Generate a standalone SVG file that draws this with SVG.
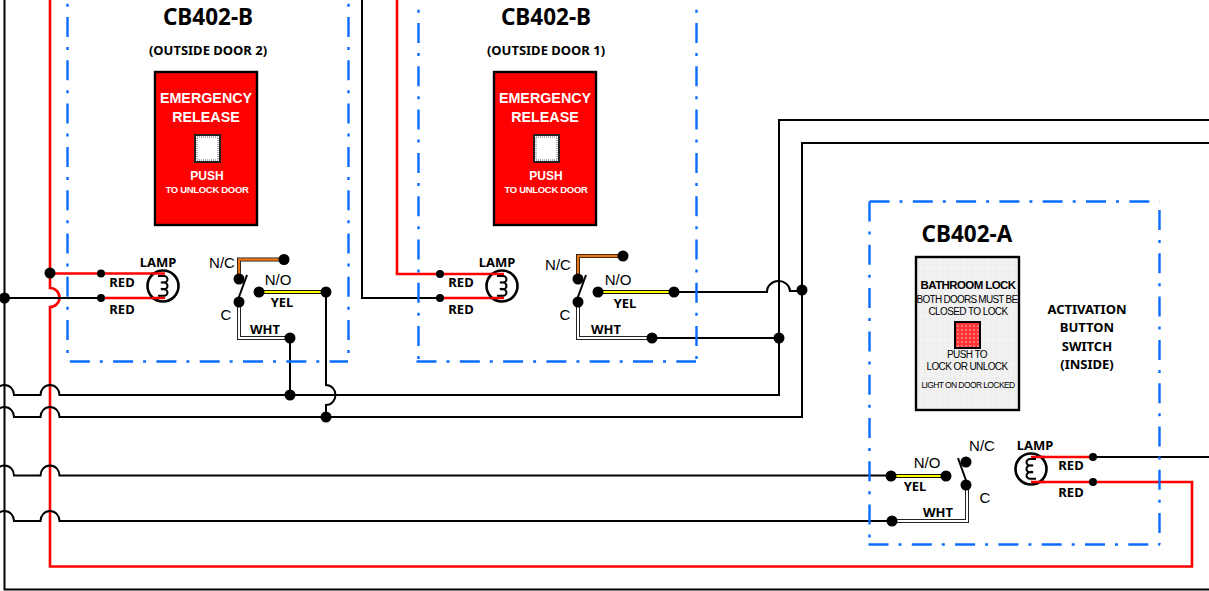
<svg xmlns="http://www.w3.org/2000/svg" width="1209" height="591" viewBox="0 0 1209 591">
<style>
text{text-anchor:middle;fill:#000}
.c{font-family:"Noto Sans","Open Sans",sans-serif;font-weight:700}
.a{font-family:"Liberation Sans",Arial,sans-serif}
.ttl{font-size:22.500px}
.sub{font-size:13px}
.lbl{font-size:13px}
.t{font-size:15px}
.w{fill:none;stroke:#000;stroke-width:2}
.r{fill:none;stroke:#f00;stroke-width:2.6}
.box{fill:none;stroke:#0a6cff;stroke-width:2.4;stroke-dasharray:20 10 3 10.300}
.yo{fill:none;stroke:#111;stroke-width:4}
.yi{fill:none;stroke:#ff0;stroke-width:2}
.oo{fill:none;stroke:#111;stroke-width:4}
.oi{fill:none;stroke:#e8771a;stroke-width:2.4}
.wo{fill:none;stroke:#222;stroke-width:4}
.wi{fill:none;stroke:#fff;stroke-width:2}
.lamp{fill:#fff;stroke:#000;stroke-width:2.6}
.coil{fill:none;stroke:#000;stroke-width:2}
.panel{stroke:#000;stroke-width:2.4}
.btn{fill:#fff;stroke:#222;stroke-width:2}
.btd{fill:none;stroke:#999;stroke-width:1.500;stroke-dasharray:1 1}
.e{fill:#fff;font-family:"Liberation Sans",Arial,sans-serif;font-weight:700}
.g{font-family:"Liberation Sans",Arial,sans-serif;letter-spacing:-.6px}
</style>
<defs>
<pattern id="grid" width="6" height="6" patternUnits="userSpaceOnUse"><rect width="6" height="6" fill="#f2f2f2"/><path d="M0 0H6M0 0V6" stroke="#e9e9e9" stroke-width="1"/></pattern>
<pattern id="redgrid" width="4" height="4" patternUnits="userSpaceOnUse"><rect width="4" height="4" fill="#f33"/><circle cx="2" cy="2" r="1" fill="#f88"/></pattern>
<g id="dotS"><circle r="4" fill="#000"/></g>
<g id="dotL"><circle r="5.500" fill="#000"/></g>
</defs>

<g id="connectors">
<path class="w" d="M4.500 0V589.500H1209"/>
<path class="r" d="M50 0V288A9.500 9.500 0 0 1 50 307V566.500H1192V482H1093"/>
<path class="r" d="M50 273.500H163"/>
<path class="r" d="M101 298H163"/>
<path class="w" d="M0 298H101"/>
<path class="w" d="M362 0V298H440"/>
<path class="r" d="M397 0V274H502"/>
<path class="r" d="M440 298H502"/>
<path class="w" d="M-5 395A9.500 10 0 0 1 14 395H40.500A9.500 10 0 0 1 59.500 395H779V120H1209"/>
<path class="w" d="M-5 417A9.500 10 0 0 1 14 417H40.500A9.500 10 0 0 1 59.500 417H802V143H1209"/>
<path class="w" d="M-5 475.500A9.500 10 0 0 1 14 475.500H40.500A9.500 10 0 0 1 59.500 475.500H891"/>
<path class="w" d="M-5 521A9.500 10 0 0 1 14 521H40.500A9.500 10 0 0 1 59.500 521H892"/>
<path class="w" d="M290 338V395"/>
<path class="w" d="M326 292V385A9.500 10 0 0 1 326 405V417"/>
<path class="w" d="M674 292H767A11 10 0 0 1 790 291H802"/>
<path class="w" d="M652 338H779"/>
<path class="w" d="M1093 457H1209"/>
<path class="r" d="M1030 457H1093"/>
<path class="r" d="M1030 482H1093"/>
<path class="oo" d="M239 279V259.500H285"/><path class="oi" d="M239 279V259.500H285"/>
<path class="yo" d="M259 292H326"/><path class="yi" d="M259 292H326"/>
<path class="wo" d="M239 302V338H290"/><path class="wi" d="M239 302V338H290"/>
<path class="oo" d="M578 279V256H623"/><path class="oi" d="M578 279V256H623"/>
<path class="yo" d="M598 292H674"/><path class="yi" d="M598 292H674"/>
<path class="wo" d="M578 302V338H652"/><path class="wi" d="M578 302V338H652"/>
<path class="yo" d="M891 476H946"/><path class="yi" d="M891 476H946"/>
<path class="wo" d="M967 485V521H892"/><path class="wi" d="M967 485V521H892"/>
<path class="w" d="M247 275L236 305"/>
<path class="w" d="M586 275L575 305"/>
<path class="w" d="M958 458L968 486"/>
</g>

<g id="junctions">
<use href="#dotL" x="50" y="273"/><use href="#dotL" x="4.500" y="298"/>
<use href="#dotS" x="101" y="273.500"/><use href="#dotS" x="101" y="298"/>
<use href="#dotS" x="440" y="274"/><use href="#dotS" x="440" y="298"/>
<use href="#dotL" x="290" y="338"/><use href="#dotL" x="326" y="292"/>
<use href="#dotL" x="290" y="395"/><use href="#dotL" x="326" y="417"/>
<use href="#dotL" x="674" y="292"/><use href="#dotL" x="652" y="338"/>
<use href="#dotL" x="779" y="338"/><use href="#dotL" x="802" y="290"/>
<use href="#dotL" x="891" y="476"/><use href="#dotL" x="892" y="521"/>
<use href="#dotS" x="1093" y="457"/><use href="#dotS" x="1093" y="482"/>
</g>

<g id="cb402-b-door2">
<path class="box" d="M67.500 -69.600V361"/><path class="box" d="M348.500 -69.600V361"/><path class="box" d="M69.800 361.500H348"/>
<text class="c ttl" x="208" y="25">CB402-B</text>
<text class="c sub" x="208" y="55">(OUTSIDE DOOR 2)</text>
<rect class="panel" x="155" y="72" width="102" height="153" fill="#f00"/>
<text class="e" x="206" y="103" font-size="14.300">EMERGENCY</text>
<text class="e" x="206" y="122" font-size="14.300">RELEASE</text>
<rect class="btn" x="195" y="135" width="25" height="27"/><rect class="btd" x="197" y="137" width="21" height="23"/>
<text class="e" x="207" y="180" font-size="12">PUSH</text>
<text class="e" x="207" y="193" font-size="9.500" letter-spacing="-.3">TO UNLOCK DOOR</text>
<circle class="lamp" cx="163" cy="286" r="15.500"/>
<path class="r" d="M152 273.500H165M152 298H165"/>
<path class="coil" d="M158 276h6a3.500 3.300 0 0 1 0 6.600h-3a3.500 3.300 0 0 1 3 0a3.500 3.300 0 0 1 0 6.600h-3a3.500 3.300 0 0 1 3 0a3.500 3.300 0 0 1 0 6.600h-6"/>
<text class="c lbl" x="158" y="267">LAMP</text>
<text class="c lbl" x="122" y="287">RED</text>
<text class="c lbl" x="122" y="314">RED</text>
<use href="#dotL" x="284" y="259.500"/><use href="#dotL" x="239" y="279"/><use href="#dotL" x="239" y="302"/><use href="#dotL" x="259" y="292"/>
<text class="a t" x="222" y="268">N/C</text><text class="a t" x="278" y="285">N/O</text><text class="a t" x="226" y="320">C</text>
<text class="c lbl" x="282" y="307">YEL</text><text class="c lbl" x="265" y="334">WHT</text>
</g>

<g id="cb402-b-door1">
<path class="box" d="M418.500 -63.600V361"/><path class="box" d="M696.500 -63.600V361"/><path class="box" d="M416.500 361.500H696"/>
<text class="c ttl" x="546" y="25">CB402-B</text>
<text class="c sub" x="546" y="55">(OUTSIDE DOOR 1)</text>
<rect class="panel" x="494" y="72" width="102" height="153" fill="#f00"/>
<text class="e" x="545" y="103" font-size="14.300">EMERGENCY</text>
<text class="e" x="545" y="122" font-size="14.300">RELEASE</text>
<rect class="btn" x="534" y="135" width="25" height="27"/><rect class="btd" x="536" y="137" width="21" height="23"/>
<text class="e" x="546" y="180" font-size="12">PUSH</text>
<text class="e" x="546" y="193" font-size="9.500" letter-spacing="-.3">TO UNLOCK DOOR</text>
<circle class="lamp" cx="502" cy="286" r="15.500"/>
<path class="r" d="M491 274H504M491 298H504"/>
<path class="coil" d="M497 276h6a3.500 3.300 0 0 1 0 6.600h-3a3.500 3.300 0 0 1 3 0a3.500 3.300 0 0 1 0 6.600h-3a3.500 3.300 0 0 1 3 0a3.500 3.300 0 0 1 0 6.600h-6"/>
<text class="c lbl" x="497" y="267">LAMP</text>
<text class="c lbl" x="461" y="287">RED</text>
<text class="c lbl" x="461" y="314">RED</text>
<use href="#dotL" x="623" y="256"/><use href="#dotL" x="578" y="279"/><use href="#dotL" x="578" y="302"/><use href="#dotL" x="598" y="292"/>
<text class="a t" x="558" y="270">N/C</text><text class="a t" x="618" y="285">N/O</text><text class="a t" x="565" y="320">C</text>
<text class="c lbl" x="625" y="308">YEL</text><text class="c lbl" x="606" y="334">WHT</text>
</g>

<g id="cb402-a">
<path class="box" d="M869.500 201.500H1159.500"/><path class="box" d="M869.500 201.500V544.500"/><path class="box" d="M1159.500 201.500V544.500" stroke-dashoffset="34.800"/><path class="box" d="M868.500 544.500H1160"/>
<text class="c ttl" x="967" y="242">CB402-A</text>
<rect class="panel" x="916" y="257" width="103" height="153" fill="url(#grid)"/>
<text class="g" x="968" y="289" font-size="11.500" font-weight="700">BATHROOM LOCK</text>
<text class="g" x="967" y="303" font-size="10" style="letter-spacing:-.75px">BOTH DOORS MUST BE</text>
<text class="g" x="968" y="315" font-size="10">CLOSED TO LOCK</text>
<rect x="955" y="322" width="25" height="26" fill="url(#redgrid)" stroke="#000" stroke-width="2"/>
<text class="g" x="967" y="358" font-size="10">PUSH TO</text>
<text class="g" x="967" y="370" font-size="10">LOCK OR UNLOCK</text>
<text class="g" x="968" y="388" font-size="8.500">LIGHT ON DOOR LOCKED</text>
<text class="c lbl" x="1087" y="314">ACTIVATION</text>
<text class="c lbl" x="1087" y="332">BUTTON</text>
<text class="c lbl" x="1087" y="351">SWITCH</text>
<text class="c lbl" x="1087" y="369">(INSIDE)</text>
<circle class="lamp" cx="1031" cy="469" r="15.500"/>
<path class="r" d="M1031 457H1045M1031 482H1045"/>
<path class="coil" d="M1036 459h-6a3.500 3.300 0 0 0 0 6.600h3a3.500 3.300 0 0 0 -3 0a3.500 3.300 0 0 0 0 6.600h3a3.500 3.300 0 0 0 -3 0a3.500 3.300 0 0 0 0 6.600h6"/>
<text class="c lbl" x="1035" y="450">LAMP</text>
<text class="c lbl" x="1071" y="470">RED</text>
<text class="c lbl" x="1071" y="497">RED</text>
<use href="#dotL" x="946" y="476"/><use href="#dotL" x="966" y="462"/><use href="#dotL" x="966" y="485"/>
<text class="a t" x="982" y="451">N/C</text><text class="a t" x="927" y="468">N/O</text><text class="a t" x="985" y="503">C</text>
<text class="c lbl" x="915" y="491">YEL</text><text class="c lbl" x="938" y="517">WHT</text>
</g>
</svg>
